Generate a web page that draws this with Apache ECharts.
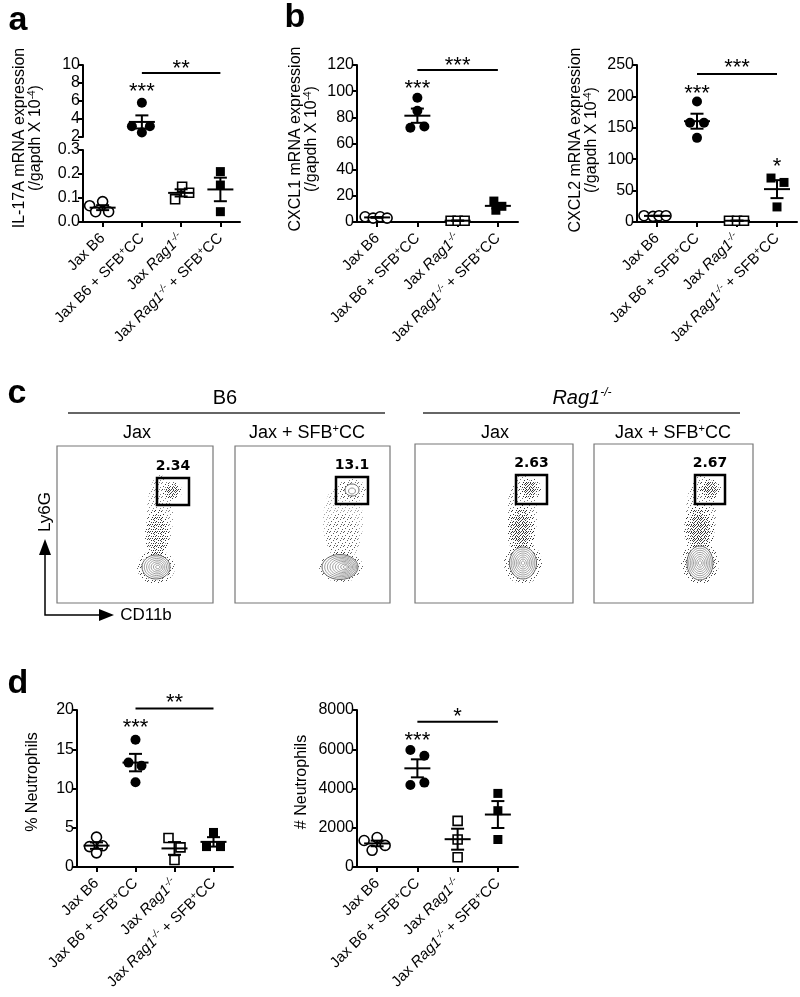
<!DOCTYPE html>
<html><head><meta charset="utf-8">
<script src="https://cdn.jsdelivr.net/npm/echarts@6/dist/echarts.min.js"></script>
<style>html,body{margin:0;padding:0;background:#fff}#c{width:800px;height:997px}</style>
</head><body><div id="c"></div>
<script>
// ---------------- DATA ----------------
const categories = ['Jax B6', 'Jax B6 + SFB+CC', 'Jax Rag1-/-', 'Jax Rag1-/- + SFB+CC'];
const catLabels = ['Jax B6', 'Jax B6 + SFB{sup|+}CC', 'Jax {i|Rag1}{isup|-/-}', 'Jax {i|Rag1}{isup|-/-} + SFB{sup|+}CC'];

// a: IL-17A mRNA (/gapdh x 10^-4)
const il17B6 = [0.068, 0.085, 0.043, 0.043];
const il17B6SFB = [5.8, 3.2, 2.5, 3.2];
const il17Rag = [0.147, 0.095, 0.122];
const il17RagSFB = [0.21, 0.154, 0.043];
// b: CXCL1
const cxcl1B6 = [4, 3, 4, 3];
const cxcl1B6SFB = [95, 85, 72, 73];
const cxcl1Rag = [1, 1, 1];
const cxcl1RagSFB = [16, 12, 9];
// b: CXCL2
const cxcl2B6 = [10, 9, 10, 10];
const cxcl2B6SFB = [192, 158, 158, 134];
const cxcl2Rag = [2, 2, 2];
const cxcl2RagSFB = [70, 63, 24];
// d: % neutrophils
const pctB6 = [3.8, 2.6, 2.7, 1.8];
const pctB6SFB = [16.2, 13.3, 12.9, 10.8];
const pctRag = [3.7, 2.5, 0.9];
const pctRagSFB = [4.4, 2.6, 2.6];
// d: # neutrophils
const numB6 = [1350, 1500, 850, 1100];
const numB6SFB = [5960, 5670, 4180, 4300];
const numRag = [2350, 1400, 500];
const numRagSFB = [3750, 2870, 1400];
// c: flow gate percentages
const flowPercents = ['2.34', '13.1', '2.63', '2.67'];

// y tick settings
const il17UpperTicks = {min: 2, max: 10, interval: 2};
const il17LowerTicks = {min: 0, max: 0.3, interval: 0.1};
const cxcl1Ticks = {min: 0, max: 120, interval: 20};
const cxcl2Ticks = {min: 0, max: 250, interval: 50};
const pctTicks = {min: 0, max: 20, interval: 5};
const numTicks = {min: 0, max: 8000, interval: 2000};

// significance annotations: [fromCat, toCat, lineValue, textValue] / [cat, textValue]
const sigA = {br: [[1, 3, 9.11, 10.1]], brText: ['**'], st: [[1, 7.6]], stText: ['***']};
const sigB1 = {br: [[1, 3, 116.1, 123.4]], brText: ['***'], st: [[1, 105.8]], stText: ['***']};
const sigB2 = {br: [[1, 3, 235.6, 253]], brText: ['***'], st: [[1, 213], [3, 95.5]], stText: ['***', '*']};
const sigD1 = {br: [[1, 3, 20.2, 21.6]], brText: ['**'], st: [[1, 18.4]], stText: ['***']};
const sigD2 = {br: [[1, 3, 7406, 7899]], brText: ['*'], st: [[1, 6676]], stText: ['***']};

// ---------------- LAYOUT ----------------
const FONT = '"Liberation Sans", Arial, Helvetica, sans-serif';
const RICH = {
  sup: {fontSize: 10, fontFamily: FONT, color: '#000', verticalAlign: 'top', lineHeight: 7},
  i: {fontSize: 15, fontFamily: FONT, fontStyle: 'italic', color: '#000', lineHeight: 17},
  isup: {fontSize: 10, fontFamily: FONT, fontStyle: 'italic', color: '#000', verticalAlign: 'top', lineHeight: 7}
};
// jitter offsets (px) for points inside a group
const jit = {
  aB6: [-13, 0, -7, 6], aSFB: [0, -10, 0, 8], aRag: [1, -6, 8], aRagSFB: [0, 0, 0],
  b1B6: [-12, -4, 3, 10], b1SFB: [0, 0, -7, 7], b1Rag: [-7, 0, 7], b1RagSFB: [-4, 4, -2],
  b2B6: [-13, -4, 2, 9], b2SFB: [0, -7, 7, 0], b2Rag: [-8, 0, 7], b2RagSFB: [-6, 7, 0],
  d1B6: [0, -7, 6, 0], d1SFB: [0, -7, 6, 0], d1Rag: [-6, 6, 0], d1RagSFB: [0, -7, 7],
  d2B6: [-13, 0, -5, 8], d2SFB: [-7, 7, -7, 7], d2Rag: [0, 0, 0], d2RagSFB: [0, 0, 0]
};

const gridDefs = [
  {left: 83, top: 65, width: 157, height: 72},
  {left: 83, top: 150, width: 157, height: 72},
  {left: 357, top: 65, width: 161, height: 157},
  {left: 637, top: 65, width: 160, height: 157},
  {left: 77, top: 710, width: 156, height: 157},
  {left: 357, top: 710, width: 161, height: 157}
];

function xAx(gi, show) {
  return {
    type: 'category', gridIndex: gi, data: categories, show: show, boundaryGap: true,
    axisLine: {show: true, lineStyle: {color: '#000', width: 2}},
    axisTick: {show: true, alignWithLabel: true, length: 5, lineStyle: {color: '#000', width: 2}},
    axisLabel: {interval: 0, rotate: 45, fontSize: 15, lineHeight: 17, fontFamily: FONT, color: '#000', margin: 14,
      formatter: (v, i) => catLabels[i], rich: RICH},
    splitLine: {show: false}
  };
}
function yAx(gi, t, fmt) {
  return {
    type: 'value', gridIndex: gi, min: t.min, max: t.max, interval: t.interval,
    axisLine: {show: true, lineStyle: {color: '#000', width: 2}},
    axisTick: {show: true, length: 5, lineStyle: {color: '#000', width: 2}},
    axisLabel: {fontSize: 16, fontFamily: FONT, color: '#000', margin: 3, formatter: fmt || (v => String(v))},
    splitLine: {show: false}
  };
}

const series = [];
function mean(a) { return a.reduce((s, x) => s + x, 0) / a.length; }
function sem(a) { const m = mean(a); return Math.sqrt(a.reduce((s, x) => s + (x - m) * (x - m), 0) / (a.length - 1)) / Math.sqrt(a.length); }

function addGroup(xi, yi, cat, vals, offs, sym, filled) {
  series.push({
    type: 'scatter', xAxisIndex: xi, yAxisIndex: yi, symbol: sym, symbolSize: sym === 'circle' ? 10 : 9,
    itemStyle: {color: filled ? '#000' : '#fff', borderColor: '#000', borderWidth: filled ? 0 : 1.6, opacity: 1},
    data: vals.map((v, k) => ({value: [cat, v], symbolOffset: [offs[k], 0]})),
    z: 3, silent: true, animation: false
  });
}
function addBars(xi, yi, groups) {
  series.push({
    type: 'custom', xAxisIndex: xi, yAxisIndex: yi, z: 4, silent: true, animation: false, clip: false,
    data: groups.map(g => [g[0], mean(g[1]), sem(g[1])]),
    renderItem: (params, api) => {
      const x = api.value(0), m = api.value(1), s = api.value(2);
      const c = api.coord([x, m]), t = api.coord([x, m + s]), b = api.coord([x, m - s]);
      const st = {stroke: '#000', lineWidth: 2};
      return {type: 'group', children: [
        {type: 'line', shape: {x1: c[0] - 13, y1: c[1], x2: c[0] + 13, y2: c[1]}, style: st},
        {type: 'line', shape: {x1: c[0], y1: t[1], x2: c[0], y2: b[1]}, style: st},
        {type: 'line', shape: {x1: c[0] - 6.5, y1: t[1], x2: c[0] + 6.5, y2: t[1]}, style: st},
        {type: 'line', shape: {x1: c[0] - 6.5, y1: b[1], x2: c[0] + 6.5, y2: b[1]}, style: st}
      ]};
    }
  });
}
const STAR = 22;
function starText(x, y, txt) {
  return {type: 'text', x: x, y: y + STAR * 0.24,
    style: {text: txt, fontSize: STAR, fontFamily: FONT, fill: '#000', align: 'center', verticalAlign: 'middle'}};
}
function addSig(xi, yi, sig) {
  series.push({
    type: 'custom', xAxisIndex: xi, yAxisIndex: yi, z: 5, silent: true, animation: false, clip: false,
    data: sig.br,
    renderItem: (params, api) => {
      const p1 = api.coord([api.value(0), api.value(2)]);
      const p2 = api.coord([api.value(1), api.value(2)]);
      const pt = api.coord([api.value(0), api.value(3)]);
      return {type: 'group', children: [
        {type: 'line', shape: {x1: p1[0], y1: p1[1], x2: p2[0], y2: p2[1]}, style: {stroke: '#000', lineWidth: 2}},
        starText((p1[0] + p2[0]) / 2, pt[1], sig.brText[params.dataIndex])
      ]};
    }
  });
  series.push({
    type: 'custom', xAxisIndex: xi, yAxisIndex: yi, z: 5, silent: true, animation: false, clip: false,
    data: sig.st,
    renderItem: (params, api) => {
      const p = api.coord([api.value(0), api.value(1)]);
      return starText(p[0], p[1], sig.stText[params.dataIndex]);
    }
  });
}

// panel a
addGroup(1, 1, 0, il17B6, jit.aB6, 'circle', false);
addGroup(0, 0, 1, il17B6SFB, jit.aSFB, 'circle', true);
addGroup(1, 1, 2, il17Rag, jit.aRag, 'rect', false);
addGroup(1, 1, 3, il17RagSFB, jit.aRagSFB, 'rect', true);
addBars(1, 1, [[0, il17B6], [2, il17Rag], [3, il17RagSFB]]);
addBars(0, 0, [[1, il17B6SFB]]);
addSig(0, 0, sigA);
// panel b CXCL1
addGroup(2, 2, 0, cxcl1B6, jit.b1B6, 'circle', false);
addGroup(2, 2, 1, cxcl1B6SFB, jit.b1SFB, 'circle', true);
addGroup(2, 2, 2, cxcl1Rag, jit.b1Rag, 'rect', false);
addGroup(2, 2, 3, cxcl1RagSFB, jit.b1RagSFB, 'rect', true);
addBars(2, 2, [[0, cxcl1B6], [1, cxcl1B6SFB], [2, cxcl1Rag], [3, cxcl1RagSFB]]);
addSig(2, 2, sigB1);
// panel b CXCL2
addGroup(3, 3, 0, cxcl2B6, jit.b2B6, 'circle', false);
addGroup(3, 3, 1, cxcl2B6SFB, jit.b2SFB, 'circle', true);
addGroup(3, 3, 2, cxcl2Rag, jit.b2Rag, 'rect', false);
addGroup(3, 3, 3, cxcl2RagSFB, jit.b2RagSFB, 'rect', true);
addBars(3, 3, [[0, cxcl2B6], [1, cxcl2B6SFB], [2, cxcl2Rag], [3, cxcl2RagSFB]]);
addSig(3, 3, sigB2);
// panel d %
addGroup(4, 4, 0, pctB6, jit.d1B6, 'circle', false);
addGroup(4, 4, 1, pctB6SFB, jit.d1SFB, 'circle', true);
addGroup(4, 4, 2, pctRag, jit.d1Rag, 'rect', false);
addGroup(4, 4, 3, pctRagSFB, jit.d1RagSFB, 'rect', true);
addBars(4, 4, [[0, pctB6], [1, pctB6SFB], [2, pctRag], [3, pctRagSFB]]);
addSig(4, 4, sigD1);
// panel d #
addGroup(5, 5, 0, numB6, jit.d2B6, 'circle', false);
addGroup(5, 5, 1, numB6SFB, jit.d2SFB, 'circle', true);
addGroup(5, 5, 2, numRag, jit.d2Rag, 'rect', false);
addGroup(5, 5, 3, numRagSFB, jit.d2RagSFB, 'rect', true);
addBars(5, 5, [[0, numB6], [1, numB6SFB], [2, numRag], [3, numRagSFB]]);
addSig(5, 5, sigD2);

// ---------------- GRAPHICS (labels, flow panels) ----------------
const G = [];
function txt(x, y, text, opts) {
  G.push(Object.assign({type: 'text', x: x, y: y, silent: true,
    style: Object.assign({text: text, fontFamily: FONT, fontSize: 15, fill: '#000', align: 'center', verticalAlign: 'middle'}, opts && opts.style || {})},
    opts && opts.el || {}));
}
// panel letters
['a', 'b', 'c', 'd'].forEach((l, k) => {
  const pos = [[18, 21], [295, 18], [17, 394], [18, 684]][k];
  txt(pos[0], pos[1], l, {style: {fontSize: 34, fontWeight: 'bold'}});
});
// y axis names
const yNameRich = {sup: {fontSize: 10, fontFamily: FONT, verticalAlign: 'top', lineHeight: 8, fill: '#000'}};
function yName(x, y, text) {
  txt(x, y, text, {el: {rotation: Math.PI / 2}, style: {fontSize: 16, lineHeight: 16, rich: yNameRich}});
}
yName(27.5, 138, 'IL-17A mRNA expression\n(/gapdh X 10{sup|-4})');
yName(303.5, 139, 'CXCL1 mRNA expression\n(/gapdh X 10{sup|-4})');
yName(583.5, 140, 'CXCL2 mRNA expression\n(/gapdh X 10{sup|-4})');
yName(33, 782, '% Neutrophils');
yName(302, 782, '# Neutrophils');

// panel c headers
const hdrRich = {
  it: {fontSize: 20, fontStyle: 'italic', fontFamily: FONT, fill: '#000', lineHeight: 22},
  isup: {fontSize: 12, fontStyle: 'italic', fontFamily: FONT, fill: '#000', verticalAlign: 'top', lineHeight: 9},
  sup: {fontSize: 11, fontFamily: FONT, fill: '#000', verticalAlign: 'top', lineHeight: 8}
};
txt(225, 398, 'B6', {style: {fontSize: 20}});
txt(582, 398, '{it|Rag1}{isup|-/-}', {style: {fontSize: 20, lineHeight: 22, rich: hdrRich}});
G.push({type: 'line', silent: true, shape: {x1: 68, y1: 413, x2: 385, y2: 413}, style: {stroke: '#333', lineWidth: 1.5}});
G.push({type: 'line', silent: true, shape: {x1: 423, y1: 413, x2: 740, y2: 413}, style: {stroke: '#333', lineWidth: 1.5}});
[[137, 'Jax'], [307, 'Jax + SFB{sup|+}CC'], [495, 'Jax'], [673, 'Jax + SFB{sup|+}CC']].forEach(h => {
  txt(h[0], 433, h[1], {style: {fontSize: 18, lineHeight: 20, rich: hdrRich}});
});

// speckle textures (fixed dot tiles) for the flow-cytometry dot clouds
function makeTile(dots) {
  const cv = document.createElement('canvas');
  cv.width = 7; cv.height = 7;
  const ctx = cv.getContext('2d');
  ctx.fillStyle = '#1a1a1a';
  dots.forEach(d => ctx.fillRect(d[0], d[1], 1, 1));
  return {image: cv, repeat: 'repeat'};
}
const tileA = makeTile([[0, 0], [4, 1], [2, 3], [6, 4], [1, 6], [5, 6]]);
const tileB = makeTile([[2, 0], [6, 1], [0, 2], [4, 4], [3, 6], [1, 4]]);
const tileC = makeTile([[5, 0], [1, 1], [3, 2], [5, 3], [0, 5], [4, 5]]);
const tiles = [tileA, tileB, tileC];
function cloud(cx, cy, rx, ry, layers, op) {
  for (let i = 0; i < layers; i++) {
    const f = 1 - i * 0.22;
    G.push({type: 'ellipse', silent: true, shape: {cx: cx, cy: cy, rx: rx * f, ry: ry * f},
      style: {fill: tiles[i % 3], opacity: op == null ? 0.8 : op}});
  }
}
function contours(cx, cy, rx, ry, shift, n) {
  G.push({type: 'ellipse', silent: true, shape: {cx: cx, cy: cy, rx: rx, ry: ry}, style: {fill: '#fff', stroke: '#666', lineWidth: 1}});
  for (let i = 1; i < n; i++) {
    const f = 1 - i / n;
    G.push({type: 'ellipse', silent: true, shape: {cx: cx + shift * (1 - f), cy: cy, rx: rx * f, ry: ry * f},
      style: {fill: 'none', stroke: '#888', lineWidth: 0.8}});
  }
}
const flowBoxes = [
  {x: 57, y: 446, w: 156, h: 157}, {x: 235, y: 446, w: 155, h: 157},
  {x: 415, y: 444, w: 158, h: 159}, {x: 594, y: 444, w: 159, h: 159}
];
flowBoxes.forEach(b => G.push({type: 'rect', silent: true, shape: {x: b.x, y: b.y, width: b.w, height: b.h},
  style: {fill: '#fff', stroke: '#777', lineWidth: 1.2}}));
// box 1 (B6 Jax)
cloud(160, 515, 13, 40, 1, 0.55);
cloud(157, 535, 12, 26, 2);
cloud(156, 567, 19, 17, 3);
cloud(172, 491, 10, 9, 3);
contours(156, 567, 14, 12, 2, 7);
// box 2 (B6 Jax + SFB+CC)
cloud(343, 522, 20, 40, 1, 0.4);
cloud(342, 535, 16, 22, 1, 0.5);
cloud(341, 567, 22, 15, 2, 0.7);
cloud(352, 490, 14, 11, 1, 0.6);
contours(340, 567, 18, 12.5, 6, 9);
G.push({type: 'ellipse', silent: true, shape: {cx: 352, cy: 490, rx: 7, ry: 6}, style: {fill: '#fff', stroke: '#555', lineWidth: 0.9}});
G.push({type: 'ellipse', silent: true, shape: {cx: 352, cy: 491, rx: 3.5, ry: 3}, style: {fill: 'none', stroke: '#777', lineWidth: 0.8}});
// box 3 (Rag1 Jax)
cloud(522, 515, 15, 40, 1, 0.6);
cloud(521, 530, 14, 26, 3);
cloud(523, 563, 19, 21, 3);
cloud(530, 489, 11, 11, 3);
contours(523, 563, 13.5, 16, 0, 8);
// box 4 (Rag1 Jax + SFB+CC)
cloud(701, 515, 15, 40, 1, 0.6);
cloud(699, 530, 15, 26, 3);
cloud(700, 563, 19, 21, 3);
cloud(710, 489, 11, 11, 3);
contours(700, 563, 13, 17, 0, 8);
// gates
const gates = [
  {x: 157, y: 478, w: 32, h: 27}, {x: 336, y: 477, w: 32, h: 27},
  {x: 516, y: 475, w: 31, h: 29}, {x: 695, y: 475, w: 30, h: 29}
];
gates.forEach((g, k) => {
  G.push({type: 'rect', silent: true, shape: {x: g.x, y: g.y, width: g.w, height: g.h}, style: {fill: 'none', stroke: '#000', lineWidth: 2.5}});
  txt(g.x + g.w / 2, g.y - 12, flowPercents[k], {style: {fontFamily: '"DejaVu Sans", Verdana, sans-serif', fontWeight: 'bold', fontSize: 14}});
});
// flow axes arrows
G.push({type: 'polyline', silent: true, shape: {points: [[45, 553], [45, 615], [101, 615]]}, style: {fill: 'none', stroke: '#000', lineWidth: 1.5}});
G.push({type: 'polygon', silent: true, shape: {points: [[39, 555], [51, 555], [45, 539]]}, style: {fill: '#000'}});
G.push({type: 'polygon', silent: true, shape: {points: [[99, 609], [99, 621], [114, 615]]}, style: {fill: '#000'}});
txt(45, 512, 'Ly6G', {el: {rotation: Math.PI / 2}, style: {fontSize: 17}});
txt(146, 615, 'CD11b', {style: {fontSize: 17}});

const chart = echarts.init(document.getElementById('c'), null, {renderer: 'canvas'});
chart.setOption({
  backgroundColor: '#fff',
  animation: false,
  grid: gridDefs.map(g => Object.assign({outerBoundsMode: 'none', containLabel: false}, g)),
  xAxis: [xAx(0, false), xAx(1, true), xAx(2, true), xAx(3, true), xAx(4, true), xAx(5, true)],
  yAxis: [
    yAx(0, il17UpperTicks), yAx(1, il17LowerTicks, v => v.toFixed(1)), yAx(2, cxcl1Ticks), yAx(3, cxcl2Ticks),
    yAx(4, pctTicks), yAx(5, numTicks)
  ],
  series: series,
  graphic: {elements: G}
});
</script></body></html>
